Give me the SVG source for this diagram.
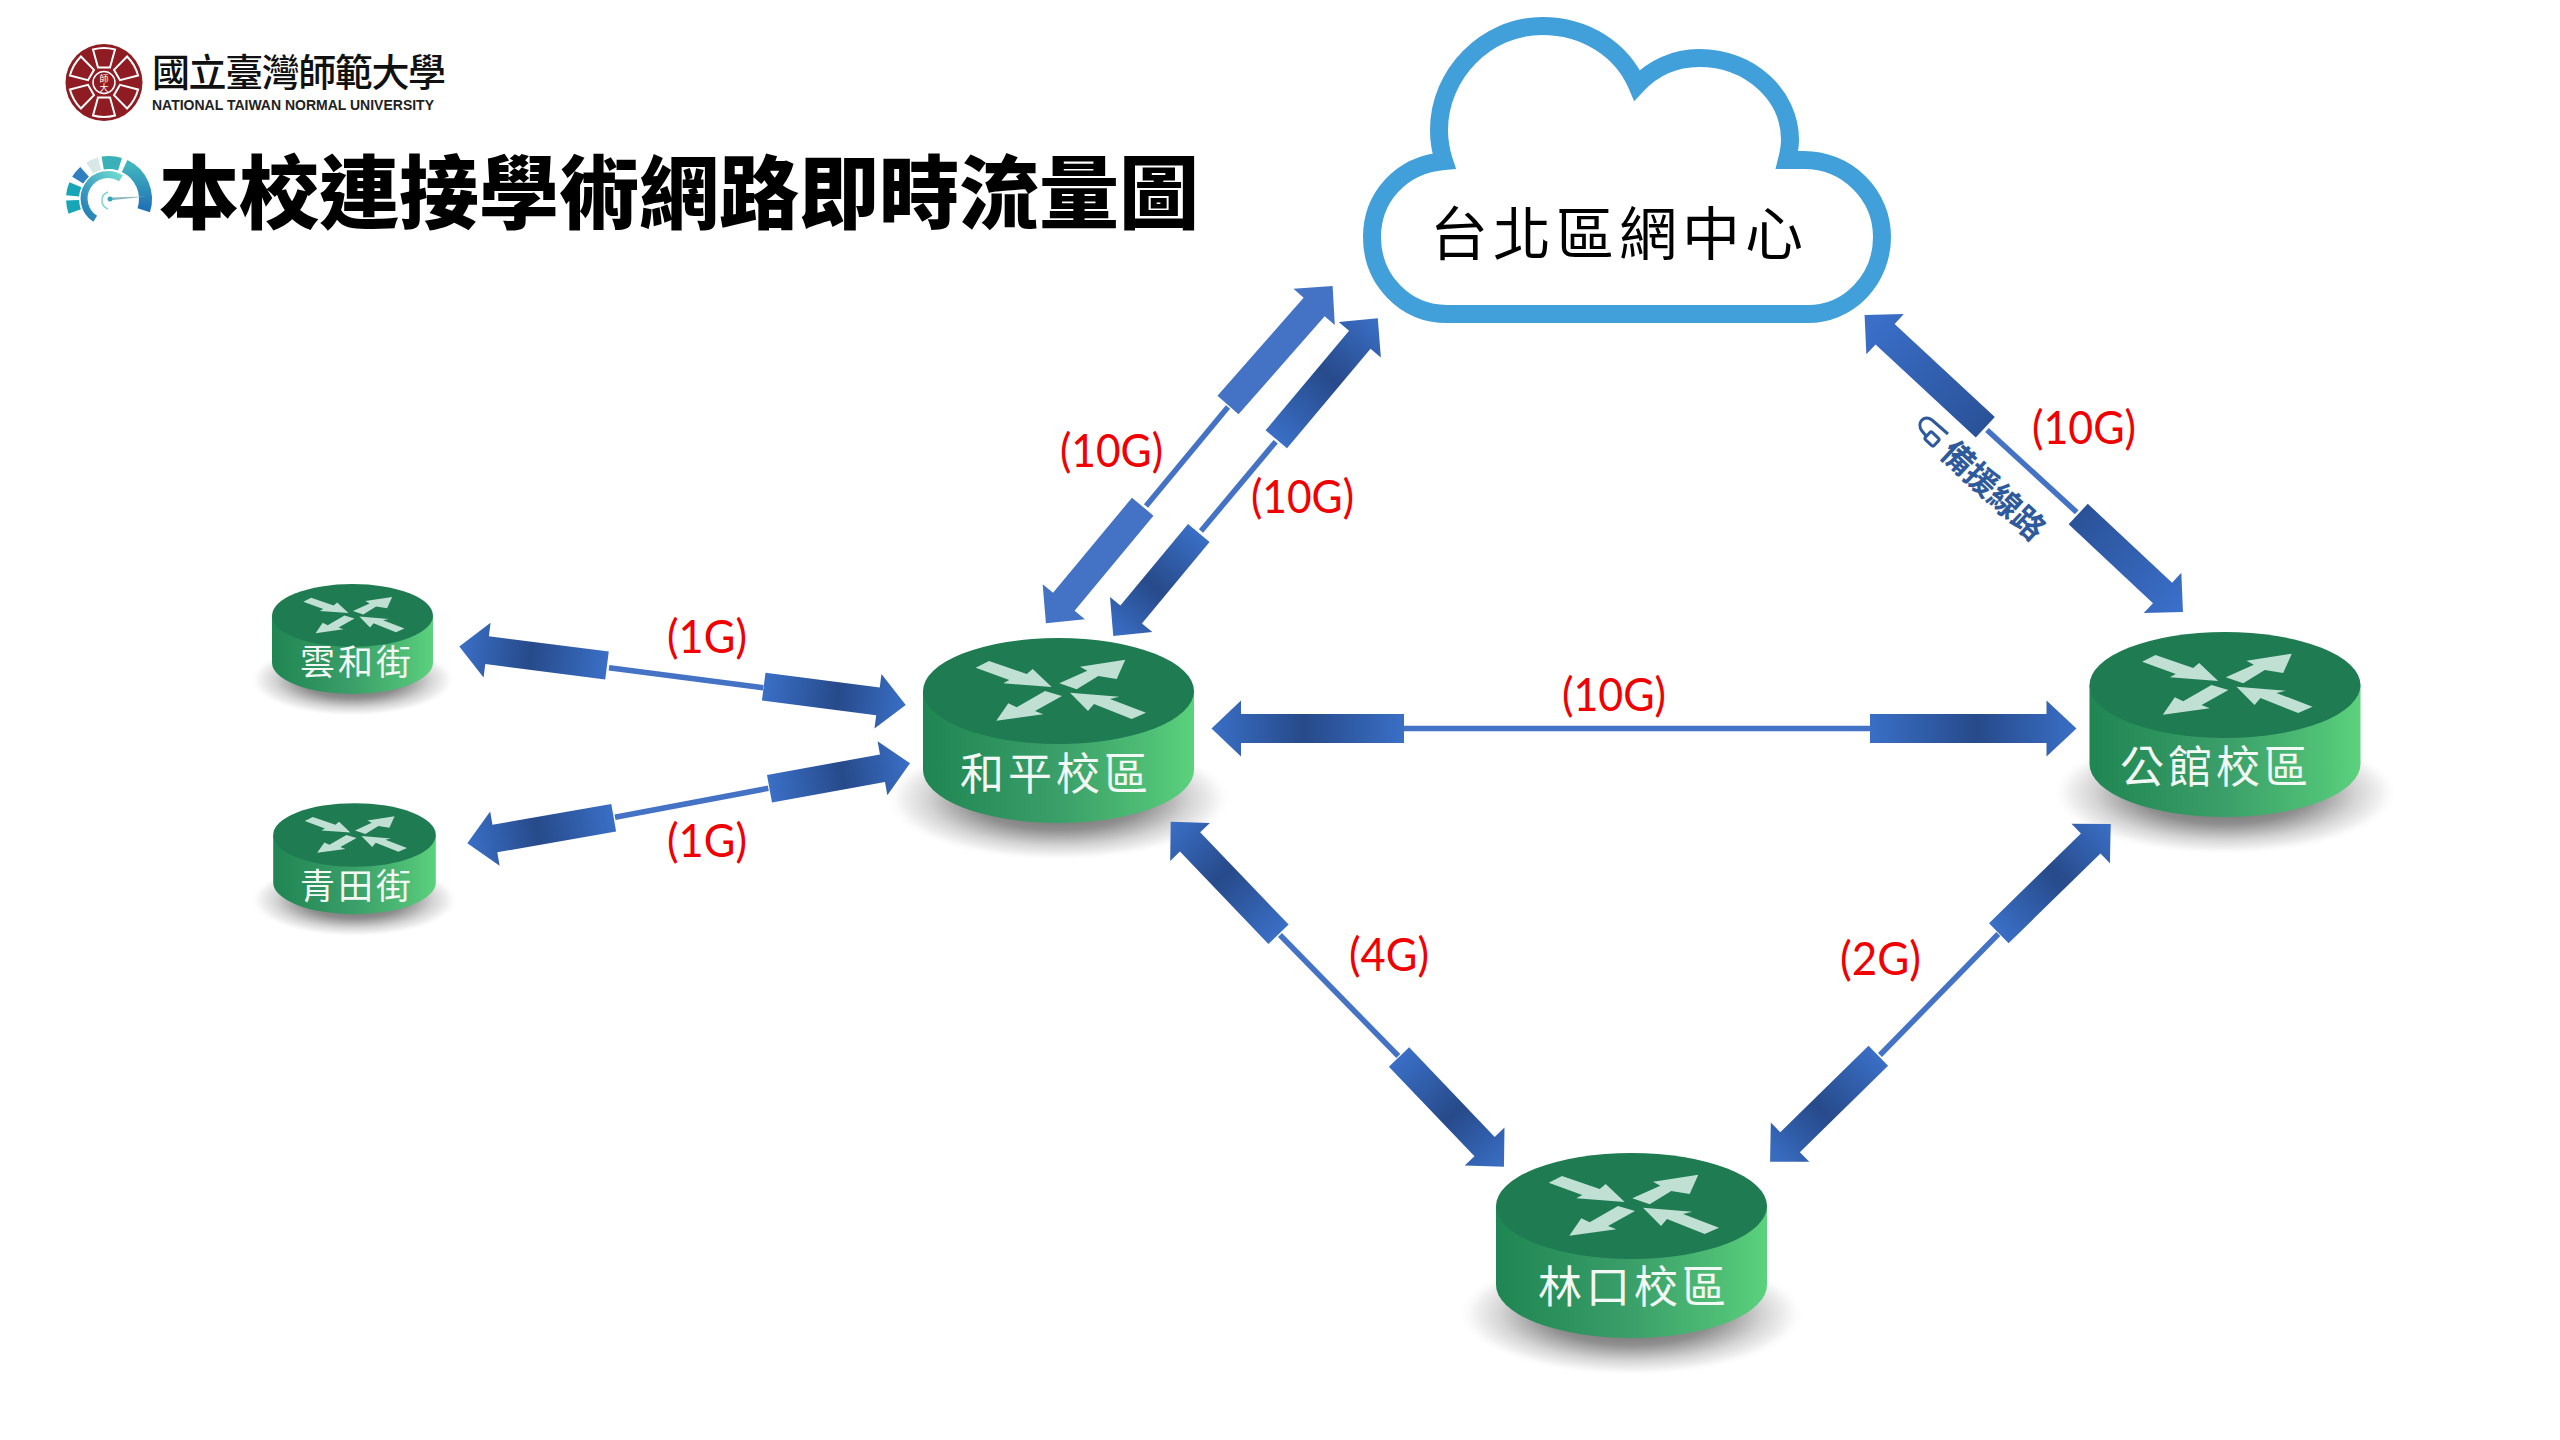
<svg xmlns="http://www.w3.org/2000/svg" width="2560" height="1440" viewBox="0 0 2560 1440">
<style>
.rt{font-family:"Noto Sans CJK TC","Noto Sans CJK SC",sans-serif;fill:#f2f8f3;text-anchor:middle;font-weight:400}
.rl{font-family:Lato,"Liberation Sans",sans-serif;fill:#f00000;font-size:47px}
.ln{stroke:#4472c4;stroke-width:5.5;fill:none}
.g1{fill:url(#pipe)}
.g2{fill:url(#pipe2)}
.fl{fill:#4472c4}
.ic{fill:#c0e0d4}
</style>
<defs>
<linearGradient id="pipe" x1="0" x2="1" y1="0" y2="0"><stop offset="0" stop-color="#3a6fc6"/><stop offset=".52" stop-color="#274a8a"/><stop offset="1" stop-color="#3a6fc6"/></linearGradient>
<linearGradient id="pipe2" x1="0" x2="1" y1="0" y2="0"><stop offset="0" stop-color="#2a5298"/><stop offset="1" stop-color="#3b70cb"/></linearGradient>
<linearGradient id="side" x1="0" x2="1" y1="0" y2="0"><stop offset="0" stop-color="#1f8552"/><stop offset=".5" stop-color="#3a9f69"/><stop offset=".85" stop-color="#50c076"/><stop offset="1" stop-color="#5bd27d"/></linearGradient>
<radialGradient id="shade"><stop offset="0" stop-color="#555555"/><stop offset=".5" stop-color="#8f8f8f"/><stop offset=".75" stop-color="#d4d4d4"/><stop offset=".9" stop-color="#f2f2f2"/><stop offset="1" stop-color="#ffffff" stop-opacity="0"/></radialGradient>
<linearGradient id="seg6" x1="0" x2="0" y1="0" y2="1"><stop offset="0" stop-color="#40b4bf"/><stop offset="1" stop-color="#1f6fb5"/></linearGradient>
<linearGradient id="seg7" x1="0" x2="1" y1="1" y2="0"><stop offset="0" stop-color="#1f7ab5"/><stop offset="1" stop-color="#6fdcd0"/></linearGradient>
<g id="router">
<ellipse cx="0" cy="108" rx="174" ry="62" fill="url(#shade)"/>
<path d="M-135.500,0V79A135.500,53 0 0 0 135.500,79V0Z" fill="url(#side)"/>
<ellipse cx="0" cy="0" rx="135.500" ry="53" fill="#1e7b52"/>
<polygon class="ic" points="-82.800,-23.300 -69.500,-30 -31.800,-17 -25.800,-22 -6.800,-4 -55.200,-7.700 -49.200,-11"/>
<polygon class="ic" points="0.800,-7.700 18.200,-1.700 39.800,-15 58.200,-12 66.800,-31.300 21.500,-24.300 28.800,-20.300"/>
<polygon class="ic" points="-62.200,29.700 -15.200,23.300 -23.500,20 3.500,5 -13.500,0 -41.800,16.300 -50.200,12.300"/>
<polygon class="ic" points="11.500,1.700 60.800,5.700 51.500,8 87.500,21.700 73.200,28 35.500,13 29.500,20"/>
</g>
<path id="petal" d="M-11,-33Q0,-36 11,-33L6,-15H-6Z" fill="none" stroke="#ffffff" stroke-width="2"/>
</defs>
<rect width="2560" height="1440" fill="#ffffff"/>

<g id="logo">
<circle cx="104" cy="82.500" r="38.500" fill="#8e1c22"/>
<g transform="translate(104,82.500)">
<use href="#petal"/><use href="#petal" transform="rotate(60)"/><use href="#petal" transform="rotate(120)"/><use href="#petal" transform="rotate(180)"/><use href="#petal" transform="rotate(240)"/><use href="#petal" transform="rotate(300)"/>
<circle r="11" fill="none" stroke="#ffffff" stroke-width="1.500"/>
</g>
<text x="104" y="82" font-size="9" fill="#ffffff" text-anchor="middle" font-family="'Noto Sans CJK TC',sans-serif">師</text>
<text x="104" y="91" font-size="9" fill="#ffffff" text-anchor="middle" font-family="'Noto Sans CJK TC',sans-serif">大</text>
<text x="152" y="86" font-size="38" font-weight="500" textLength="294" lengthAdjust="spacing" fill="#111111" font-family="'Noto Sans CJK TC',sans-serif">國立臺灣師範大學</text>
<text x="152" y="110" font-size="15" font-weight="700" textLength="282" lengthAdjust="spacingAndGlyphs" fill="#222222" font-family="'Liberation Sans',sans-serif">NATIONAL TAIWAN NORMAL UNIVERSITY</text>
</g>

<g id="gauge" fill="none" stroke-width="13">
<path d="M74.700,211.500A36.500,36.500 0 0 1 72.600,200.300" stroke="#17a5b8"/>
<path d="M72.600,195.800A36.500,36.500 0 0 1 75.400,184.700" stroke="#17a5b8"/>
<path d="M77.700,180.200A36.500,36.500 0 0 1 84.600,171.900" stroke="#2f7fc1"/>
<path d="M89.700,168.000A36.500,36.500 0 0 1 99.600,163.700" stroke="#d8e8e8"/>
<path d="M102.700,163A36.500,36.500 0 0 1 120,164.200" stroke="#3ab0b8"/>
<path d="M124.600,166A36.500,36.500 0 0 1 143.700,210.300" stroke="url(#seg6)"/>
<path d="M95.200,218.700A24,24 0 0 1 121,178.200" stroke="url(#seg7)" stroke-width="7"/>
<path d="M108,192A9,9 0 0 0 108,209" stroke="#7fd6cf" stroke-width="1.500"/>
<polygon points="109,197.500 146,196.500 109,200.500" fill="#8ab8c0" stroke="none"/>
<circle cx="110" cy="199" r="2.500" fill="#30a8b8" stroke="none"/>
</g>
<text id="title" x="159" y="222" font-size="80" font-weight="900" fill="#000000" font-family="'Noto Sans CJK TC','Noto Sans CJK SC',sans-serif">本校連接學術網路即時流量圖</text>

<g id="node-cloud">
<path d="M1447,314H1808A74,77 0 0 0 1882,237A78,77 0 0 0 1804,160H1787C1789,152 1790,147 1790,140C1790,95 1750,58 1699,58C1675,58 1653,68 1637,85C1622,50 1586,26 1542,26C1486,26 1439,74 1439,130C1439,142 1441,152 1444,161C1400,165 1372,198 1372,237C1372,280 1405,314 1447,314Z" fill="#ffffff" stroke="#419fd9" stroke-width="18" stroke-linejoin="miter"/>
<text x="1619" y="255" font-size="58" letter-spacing="5" fill="#000000" text-anchor="middle" font-family="'Noto Sans CJK TC',sans-serif">台北區網中心</text>
</g>

<g id="node-heping"><use href="#router" transform="translate(1058.500,691)"/><text class="rt" x="1056" y="790" font-size="44" letter-spacing="4">和平校區</text></g>
<g id="node-gongguan"><use href="#router" transform="translate(2225,685)"/><text class="rt" x="2216" y="783" font-size="44" letter-spacing="4">公館校區</text></g>
<g id="node-linkou"><use href="#router" transform="translate(1631.500,1206)"/><text class="rt" x="1634" y="1303" font-size="44" letter-spacing="4">林口校區</text></g>
<g id="node-yunhe"><use href="#router" transform="translate(352.500,615.500) scale(.594)"/><text class="rt" x="357" y="675" font-size="35" letter-spacing="3">雲和街</text></g>
<g id="node-qingtian"><use href="#router" transform="translate(354.500,835) scale(.6)"/><text class="rt" x="357" y="899" font-size="35" letter-spacing="3">青田街</text></g>

<g id="connectors">
<g id="link-a">
<line class="ln" x1="1146" y1="506" x2="1228" y2="407"/>
<polygon class="fl" transform="translate(1228,405) rotate(-48.700)" points="0,-14 130.500,-14 130.500,-27.500 158.500,0 130.500,27.500 130.500,14 0,14"/>
<polygon class="fl" transform="translate(1142.700,506.700) rotate(129.700)" points="0,-14 123.500,-14 123.500,-27.500 151.500,0 123.500,27.500 123.500,14 0,14"/>
</g>
<g id="link-b">
<line class="ln" x1="1275.700" y1="441.700" x2="1201" y2="531"/>
<polygon class="g1" transform="translate(1276.300,439.300) rotate(-50)" points="0,-14 129.900,-14 129.900,-27.500 157.900,0 129.900,27.500 129.900,14 0,14"/>
<polygon class="g1" transform="translate(1198.800,533) rotate(129.700)" points="0,-14 105.900,-14 105.900,-27.500 133.900,0 105.900,27.500 105.900,14 0,14"/>
</g>
<g id="link-c">
<line class="ln" x1="1987" y1="430" x2="2076.700" y2="512.300"/>
<polygon class="g2" transform="translate(1985.300,427.300) rotate(-137.100)" points="0,-14 136.800,-14 136.800,-27.500 164.800,0 136.800,27.500 136.800,14 0,14"/>
<polygon class="g2" transform="translate(2078.200,514) rotate(43.100)" points="0,-14 115.500,-14 115.500,-27.500 143.500,0 115.500,27.500 115.500,14 0,14"/>
</g>
<g id="link-d">
<line class="ln" x1="1280" y1="935" x2="1398.300" y2="1056"/>
<polygon class="g1" transform="translate(1278.500,934.300) rotate(-133.750)" points="0,-14 127.900,-14 127.900,-27.500 155.900,0 127.900,27.500 127.900,14 0,14"/>
<polygon class="g1" transform="translate(1399,1057) rotate(46.300)" points="0,-14 123.900,-14 123.900,-27.500 151.900,0 123.900,27.500 123.900,14 0,14"/>
</g>
<g id="link-e">
<line class="ln" x1="1998.300" y1="934" x2="1880" y2="1055"/>
<polygon class="g1" transform="translate(1998.800,933.200) rotate(-44.300)" points="0,-14 128.400,-14 128.400,-27.500 156.400,0 128.400,27.500 128.400,14 0,14"/>
<polygon class="g1" transform="translate(1878.300,1055.800) rotate(135.600)" points="0,-14 123.500,-14 123.500,-27.500 151.500,0 123.500,27.500 123.500,14 0,14"/>
</g>
<g id="link-f">
<line class="ln" x1="609" y1="667.700" x2="763.300" y2="687.700"/>
<polygon class="g1" transform="translate(607,665.500) rotate(-172.700)" points="0,-14 120.900,-14 120.900,-27.500 148.900,0 120.900,27.500 120.900,14 0,14"/>
<polygon class="g1" transform="translate(763.700,686.700) rotate(7.300)" points="0,-14 115.200,-14 115.200,-27.500 143.200,0 115.200,27.500 115.200,14 0,14"/>
</g>
<g id="link-g">
<line class="ln" x1="615" y1="817.300" x2="768.300" y2="788.300"/>
<polygon class="g1" transform="translate(613.700,817.800) rotate(170.100)" points="0,-14 120.600,-14 120.600,-27.500 148.600,0 120.600,27.500 120.600,14 0,14"/>
<polygon class="g1" transform="translate(769.500,788.700) rotate(-10.250)" points="0,-14 114.800,-14 114.800,-27.500 142.800,0 114.800,27.500 114.800,14 0,14"/>
</g>
<g id="link-h">
<line class="ln" x1="1404" y1="728.500" x2="1870" y2="728.500"/>
<polygon class="g1" transform="translate(1404,728.500) rotate(180)" points="0,-14.500 163,-14.500 163,-28 192.500,0 163,28 163,14.500 0,14.500"/>
<polygon class="g1" transform="translate(1870,728.500)" points="0,-14.500 176.500,-14.500 176.500,-28 206.500,0 176.500,28 176.500,14.500 0,14.500"/>
</g>
</g>

<g id="labels">
<text class="rl" x="1060" y="467" textLength="103" lengthAdjust="spacingAndGlyphs">(10G)</text>
<text class="rl" x="1251" y="513" textLength="103" lengthAdjust="spacingAndGlyphs">(10G)</text>
<text class="rl" x="2032" y="444" textLength="104" lengthAdjust="spacingAndGlyphs">(10G)</text>
<text class="rl" x="1562" y="711" textLength="104" lengthAdjust="spacingAndGlyphs">(10G)</text>
<text class="rl" x="667" y="653" textLength="80" lengthAdjust="spacingAndGlyphs">(1G)</text>
<text class="rl" x="667" y="857" textLength="80" lengthAdjust="spacingAndGlyphs">(1G)</text>
<text class="rl" x="1349" y="971" textLength="80" lengthAdjust="spacingAndGlyphs">(4G)</text>
<text class="rl" x="1840" y="975" textLength="81" lengthAdjust="spacingAndGlyphs">(2G)</text>
</g>

<g id="backup-label">
<path d="M1948,434L1932,420C1924,414 1916,423 1922,431L1927,437" fill="none" stroke="#2e5a9c" stroke-width="3"/>
<rect x="-6" y="-5" width="12" height="10" rx="2" transform="translate(1932,439) rotate(43)" fill="none" stroke="#2e5a9c" stroke-width="3"/>
<text transform="translate(1993,491) rotate(43)" y="11" font-size="32" font-weight="700" fill="#2e5a9c" text-anchor="middle" font-family="'Noto Sans CJK TC',sans-serif">備援線路</text>
</g>
</svg>
